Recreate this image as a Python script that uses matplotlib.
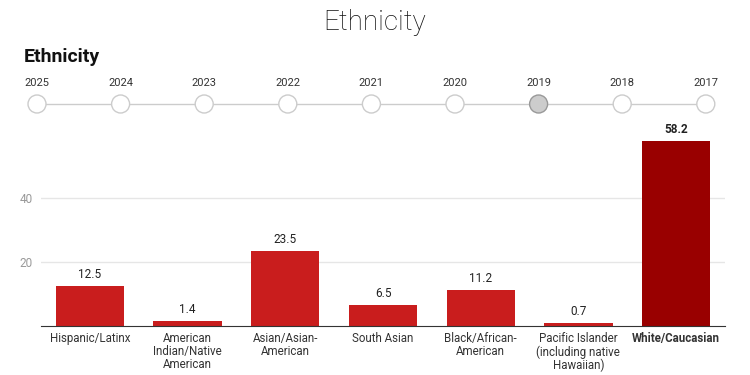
import matplotlib.pyplot as plt
from matplotlib.patches import Circle

categories = ['Hispanic/Latinx', 'American\nIndian/Native\nAmerican', 'Asian/Asian-\nAmerican',
              'South Asian', 'Black/African-\nAmerican', 'Pacific Islander\n(including native\nHawaiian)',
              'White/Caucasian']
values = [12.5, 1.4, 23.5, 6.5, 11.2, 0.7, 58.2]
years = ['2025', '2024', '2023', '2022', '2021', '2020', '2019', '2018', '2017']
selected_year = '2019'

plt.rcParams['font.family'] = ['Roboto', 'DejaVu Sans']

fig = plt.figure(figsize=(7.5, 3.75), dpi=100)

# timeline / header overlay in pixel coords
ov = fig.add_axes([0, 0, 1, 1])
ov.set_xlim(0, 750)
ov.set_ylim(375, 0)
ov.axis('off')
ov.text(375, 22, 'Ethnicity', ha='center', va='center', fontsize=20, fontweight='light', color='#111111')
ov.text(24, 57, 'Ethnicity', ha='left', va='center', fontsize=14, fontweight='bold', color='#111111')
x0, step = 37, 83.6
xs = [x0 + i * step for i in range(len(years))]
ov.plot([xs[0], xs[-1]], [104, 104], color='#cccccc', lw=1, zorder=1)
for x, y in zip(xs, years):
    ov.text(x, 83, y, ha='center', va='center', fontsize=8, color='#333333')
    fc = '#cccccc' if y == selected_year else 'white'
    ec = '#999999' if y == selected_year else '#cccccc'
    ov.add_patch(Circle((x, 104), 9, facecolor=fc, edgecolor=ec, lw=1, zorder=2))

ax = fig.add_axes([41 / 750, 0.132, 684 / 750, 0.525])
colors = ['#c91d1d'] * (len(values) - 1) + ['#990000']
pos = range(len(categories))
ax.bar(pos, values, width=0.70, color=colors, zorder=2)
for p, v in zip(pos, values):
    ax.text(p, v + 1.6, f'{v}', ha='center', va='bottom', fontsize=8.5,
            color='#222222', fontweight='bold' if p == len(values) - 1 else 'normal')
ax.set_xlim(-0.5, len(categories) - 0.5)
ax.set_ylim(0, 62)
ax.set_yticks([20, 40])
ax.grid(axis='y', color='#e6e6e6', lw=1, zorder=0)
ax.tick_params(axis='y', length=0, labelsize=8.5, labelcolor='#999999', pad=6)
ax.set_xticks(list(pos))
ax.set_xticklabels(categories, fontsize=8.3, color='#333333', linespacing=1.0)
ax.get_xticklabels()[-1].set_fontweight('bold')
ax.tick_params(axis='x', length=0, pad=5)
for s in ['top', 'right', 'left']:
    ax.spines[s].set_visible(False)
ax.spines['bottom'].set_color('#333333')

fig.savefig('out.png', dpi=100)
